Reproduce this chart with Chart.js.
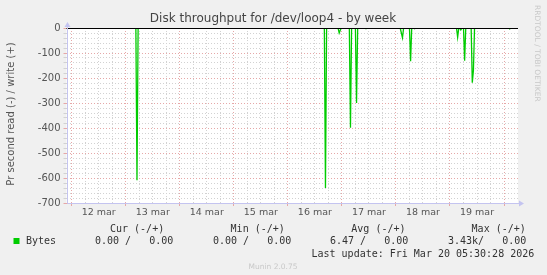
<!DOCTYPE html>
<html>
<head>
<meta charset="utf-8">
<script src="https://cdn.jsdelivr.net/npm/chart.js@4/dist/chart.umd.min.js"></script>
<style>
html, body { margin: 0; padding: 0; background: #f0f0f0; }
#wrap { position: relative; width: 547px; height: 275px; }
</style>
</head>
<body>
<div id="wrap"><canvas id="diskChart" width="547" height="275"></canvas></div>
<script>
// hours counted from 12 mar 00:00
var hours = [-2.3,
  28.5, 29.0, 29.5,
  112.2, 112.7, 113.2,
  118.3, 118.8, 119.3, 119.8,
  123.3, 123.8, 124.3,
  126.0, 126.5, 127.0,
  130.2, 130.7, 131.2,
  145.9, 146.4, 146.9, 147.4,
  150.0, 150.5, 151.0,
  151.8, 152.3, 152.8,
  170.9, 171.4, 171.9,
  172.3, 172.8, 173.3,
  174.0, 174.5, 175.0,
  177.4, 177.9, 178.4, 178.9,
  194.0, 194.5, 195.0,
  198.2];
// read bytes per second (drawn negative)
var readBytes = [0,
  0, -609, 0,
  0, -640, 0,
  0, -20, -8, 0,
  0, -399, 0,
  0, -300, 0,
  0, -3, 0,
  0, -20, -39, 0,
  0, -133, 0,
  0, -3, 0,
  0, -37, 0,
  0, -8, 0,
  0, -131, 0,
  0, -219, -170, 0,
  0, -4, 0,
  0];
var dayLabels = ['12 mar', '13 mar', '14 mar', '15 mar', '16 mar', '17 mar', '18 mar', '19 mar'];
var statHeaders = ['Cur (-/+)', 'Min (-/+)', 'Avg (-/+)', 'Max (-/+)'];
var statValues = ['0.00 /   0.00', '0.00 /   0.00', '6.47 /   0.00', '3.43k/   0.00'];
var seriesName = 'Bytes';
var lastUpdate = 'Last update: Fri Mar 20 05:30:28 2026';

var points = hours.map(function (h, i) { return { x: h, y: readBytes[i] }; });

var RED = '#e6a8a8';
var GRAY = '#d2d2d2';
var AXIS = '#c4c4f0';

var muninPlugin = {
  id: 'munin',
  beforeDraw: function (chart) {
    var ctx = chart.ctx, a = chart.chartArea;
    ctx.save();
    ctx.fillStyle = '#ffffff';
    ctx.fillRect(a.left, a.top, a.right - a.left, a.bottom - a.top);
    ctx.restore();
  },
  afterDatasetsDraw: function (chart) {
    var ctx = chart.ctx, a = chart.chartArea;
    var y0 = Math.round(chart.scales.y.getPixelForValue(0)) + 0.5;
    ctx.save();
    ctx.strokeStyle = '#000000';
    ctx.lineWidth = 1;
    ctx.beginPath();
    ctx.moveTo(a.left, y0);
    ctx.lineTo(a.right, y0);
    ctx.stroke();
    ctx.restore();
  },
  afterDraw: function (chart) {
    var ctx = chart.ctx, a = chart.chartArea;
    ctx.save();
    // axis lines and arrows
    var lx = Math.round(a.left) + 0.5, by = Math.round(a.bottom) + 0.5;
    ctx.strokeStyle = AXIS;
    ctx.lineWidth = 1;
    ctx.beginPath();
    ctx.moveTo(lx, a.top - 2);
    ctx.lineTo(lx, by);
    ctx.lineTo(a.right + 2, by);
    ctx.stroke();
    ctx.fillStyle = AXIS;
    ctx.beginPath();
    ctx.moveTo(lx - 3, a.top - 1);
    ctx.lineTo(lx + 3, a.top - 1);
    ctx.lineTo(lx, a.top - 6);
    ctx.closePath();
    ctx.fill();
    ctx.beginPath();
    ctx.moveTo(a.right + 1, by - 3);
    ctx.lineTo(a.right + 1, by + 3);
    ctx.lineTo(a.right + 6, by);
    ctx.closePath();
    ctx.fill();

    // title
    ctx.fillStyle = '#444444';
    ctx.font = '12px "DejaVu Sans"';
    ctx.textAlign = 'center';
    ctx.textBaseline = 'middle';
    ctx.fillText('Disk throughput for /dev/loop4 - by week', 273, 19);

    // y axis title
    ctx.save();
    ctx.translate(11.5, 114);
    ctx.rotate(-Math.PI / 2);
    ctx.fillStyle = '#555555';
    ctx.font = '10px "DejaVu Sans"';
    ctx.fillText('Pr second read (-) / write (+)', 0, 0);
    ctx.restore();

    // rrdtool watermark
    ctx.save();
    ctx.translate(537, 5);
    ctx.rotate(Math.PI / 2);
    ctx.fillStyle = '#c8c8c8';
    ctx.font = '7.5px "DejaVu Sans"';
    ctx.textAlign = 'left';
    ctx.fillText('RRDTOOL / TOBI OETIKER', 0, 0);
    ctx.restore();

    // legend
    ctx.fillStyle = '#333333';
    ctx.font = '10px "DejaVu Sans Mono"';
    ctx.textAlign = 'left';
    var hx = [110, 230.6, 351.3, 471.6];
    var vx = [95, 213, 330, 448];
    statHeaders.forEach(function (t, i) { ctx.fillText(t, hx[i], 229); });
    statValues.forEach(function (t, i) { ctx.fillText(t, vx[i], 241.5); });
    ctx.fillText(seriesName, 26, 241.5);
    ctx.fillText(lastUpdate, 311.5, 254);
    ctx.fillStyle = '#00cc00';
    ctx.fillRect(13.5, 238, 6, 6);

    ctx.fillStyle = '#c8c8c8';
    ctx.font = '7.5px "DejaVu Sans"';
    ctx.textAlign = 'center';
    ctx.fillText('Munin 2.0.75', 273, 267.5);
    ctx.restore();
  }
};

Chart.defaults.font.family = '"DejaVu Sans"';
Chart.defaults.color = '#555555';

var chart = new Chart(document.getElementById('diskChart').getContext('2d'), {
  type: 'line',
  data: {
    datasets: [{
      label: seriesName,
      data: points,
      borderColor: '#00cc00',
      borderWidth: 1.3,
      pointRadius: 0,
      fill: false,
      tension: 0
    }]
  },
  options: {
    responsive: false,
    animation: false,
    layout: { padding: { left: 0, top: 28, right: 29, bottom: 0 } },
    plugins: {
      legend: { display: false },
      title: { display: false },
      tooltip: { enabled: false }
    },
    scales: {
      x: {
        type: 'linear',
        min: -2.3,
        max: 198.2,
        afterFit: function (s) { s.height = 72; },
        afterBuildTicks: function (s) {
          var t = [];
          for (var h = 0; h <= 192; h += 6) t.push({ value: h });
          s.ticks = t;
        },
        ticks: {
          autoSkip: false,
          maxRotation: 0,
          padding: 1,
          font: { size: 9.5 },
          callback: function (v) {
            return v % 24 === 12 ? dayLabels[(v - 12) / 24] : '';
          }
        },
        grid: {
          color: function (c) { return c.tick && c.tick.value % 24 === 0 ? RED : GRAY; },
          tickColor: function (c) { return c.tick && c.tick.value % 24 === 0 ? RED : 'rgba(0,0,0,0)'; },
          tickLength: 3,
          lineWidth: 1
        },
        border: { display: false, dash: [1, 2] }
      },
      y: {
        min: -700,
        max: 0,
        afterFit: function (s) { s.width = 66.5; },
        ticks: {
          stepSize: 20,
          autoSkip: false,
          padding: 3,
          font: { size: 10 },
          callback: function (v) { return v % 100 === 0 ? String(v) : ''; }
        },
        grid: {
          color: function (c) { return c.tick && c.tick.value % 100 === 0 ? RED : GRAY; },
          tickColor: function (c) { return c.tick && c.tick.value % 100 === 0 ? RED : GRAY; },
          tickLength: 3,
          lineWidth: 1
        },
        border: { display: false, dash: [1, 2] }
      }
    }
  },
  plugins: [muninPlugin]
});
</script>
</body>
</html>
